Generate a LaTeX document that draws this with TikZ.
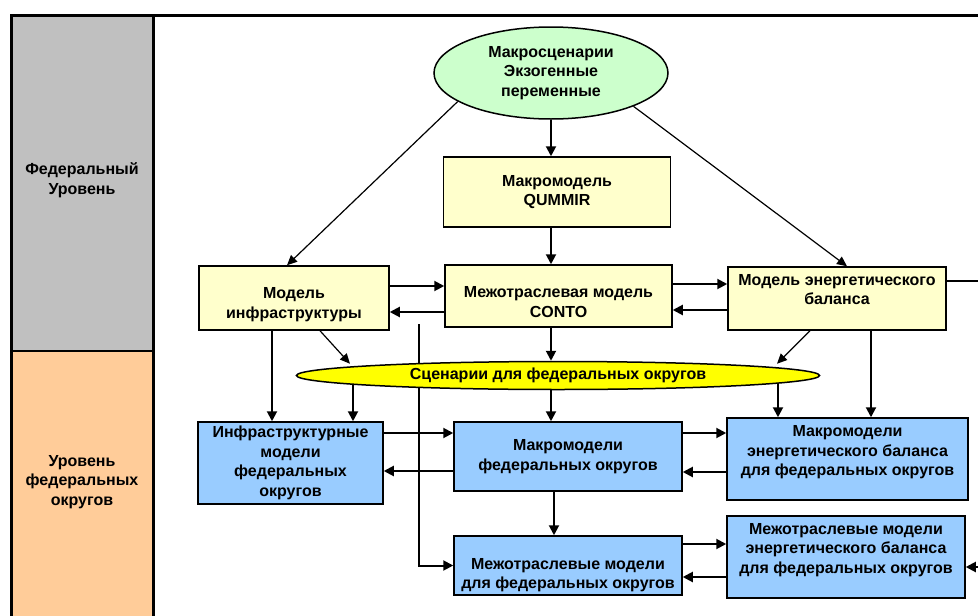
\documentclass[tikz,border=0pt]{standalone}
\usepackage{fontspec}
\setmainfont{Liberation Sans}
\usetikzlibrary{positioning,arrows.meta,shapes.geometric,backgrounds}
\definecolor{levgray}{HTML}{C0C0C0}
\definecolor{levorange}{HTML}{FFCC99}
\definecolor{fedyellow}{HTML}{FFFFCC}
\definecolor{okrblue}{HTML}{99CCFF}
\definecolor{macrogreen}{HTML}{CCFFCC}
\definecolor{scenyellow}{HTML}{FFFF00}
% shift text inside a box: extra depth on last line / extra height on first line
\newcommand{\txtup}[1]{\rule[-#1]{0pt}{#1}}
\newcommand{\txtdown}[1]{\rule{0pt}{#1}}

\begin{document}
\begin{tikzpicture}[x=1pt,y=-1pt,font=\bfseries\fontsize{16}{19.5}\selectfont]
   \tikzstyle{arrow} = [line width=2pt,-{Triangle[length=10pt,width=10pt]}]
   \tikzstyle{thinarrow} = [line width=1.2pt,-{Triangle[length=10pt,width=9pt]}]
   \tikzset{fedbox/.style = {rectangle, draw, line width=1.5pt, fill=fedyellow, align=center, inner sep=2pt}, }
   \tikzset{okrbox/.style = {rectangle, draw, line width=1.5pt, fill=okrblue, align=center, inner sep=2pt}, }
   \tikzset{scenario/.style = {ellipse, draw, line width=1.5pt, align=center, inner sep=0pt}, }

   \useasboundingbox (0,0) rectangle (978,616);

   % levels
   \fill[levgray] (11,15) rectangle (153,351);
   \fill[levorange] (11,351) rectangle (153,616);
   \draw[line width=3pt] (978,15) -- (11,15) -- (11,616);
   \draw[line width=3pt] (153,15) -- (153,616);
   \draw[line width=2pt] (11,351) -- (153,351);
   \node[align=center] (fed) at (82,180) {Федеральный\\Уровень};
   \node[align=center] (okr) at (82,482) {Уровень\\федеральных\\округов};

   % federal level
   \node[scenario, fill=macrogreen, minimum width=234pt, minimum height=92pt] (macro) at (551,73) {Макросценарии\\Экзогенные\\переменные};
   \node[fedbox, minimum width=227pt, minimum height=70pt] (qummir) at (557,192) {Макромодель\\QUMMIR};
   \node[fedbox, minimum width=227pt, minimum height=62pt] (conto) at (558.5,296) {\txtdown{23pt}Межотраслевая модель\\CONTO};
   \node[fedbox, minimum width=190pt, minimum height=64pt] (infra) at (294,298) {\txtdown{24pt}Модель\\инфраструктуры};
   \node[fedbox, minimum width=218pt, minimum height=63pt] (energy) at (837,298.5) {Модель энергетического\\баланса\txtup{18pt}};
   \node[scenario, fill=scenyellow, minimum width=523pt, minimum height=28pt] (scen) at (558,375.5) {Сценарии для федеральных округов};

   % district level
   \node[okrbox, minimum width=185pt, minimum height=82pt] (infraokr) at (290.5,463) {Инфраструктурные\\модели\\федеральных\\округов};
   \node[okrbox, minimum width=228pt, minimum height=69pt] (macrookr) at (568,456.5) {Макромодели\\федеральных округов};
   \node[okrbox, minimum width=241pt, minimum height=82pt] (energyokr) at (847.5,459) {Макромодели\\энергетического баланса\\для федеральных округов\txtup{17pt}};
   \node[okrbox, minimum width=228pt, minimum height=59pt] (mezhokr) at (568,565.5) {\txtdown{30pt}Межотраслевые модели\\для федеральных округов};
   \node[okrbox, minimum width=238pt, minimum height=82pt] (mezhenokr) at (846,557) {Межотраслевые модели\\энергетического баланса\\для федеральных округов\txtup{18pt}};

   \coordinate (rtop) at (978,281);
   \coordinate (rbot) at (978,567);
   \coordinate (cross) at (419,324);

   \begin{scope}[on background layer]
   % from macro scenarios
   \draw[arrow] (macro.south) -- (macro.south |- qummir.north);
   \draw[thinarrow] (macro.197) -- ([xshift=-7pt]infra.north);
   \draw[thinarrow] (macro.338) -- ([xshift=10pt]energy.north);

   % federal links
   \draw[arrow] (qummir.south -| macro.south) -- (conto.north -| macro.south);
   \draw[arrow] ([yshift=12pt]infra.east) -- ([yshift=12pt]infra.east -| conto.west);
   \draw[arrow] ([yshift=-16pt]conto.west) -- ([yshift=-16pt]conto.west -| infra.east);
   \draw[arrow] ([yshift=12pt]conto.east) -- ([yshift=12pt]conto.east -| energy.west);
   \draw[arrow] ([yshift=-11.5pt]energy.west) -- ([yshift=-11.5pt]energy.west -| conto.east);
   \draw[line width=2pt] (energy.east |- rtop) -- (rtop);

   % to scenarios
   \draw[thinarrow] ([xshift=26pt]infra.south) -- ([yshift=-3pt]scen.north -| 350,0);
   \draw[arrow] (conto.south -| macro.south) -- (scen.north -| macro.south);
   \draw[thinarrow] ([xshift=-27pt]energy.south) -- ([yshift=-3pt]scen.north -| 777,0);

   % scenarios to districts
   \draw[arrow] (scen.center -| 353,0) -- (infraokr.north -| 353,0);
   \draw[arrow] (scen.center -| macro.south) -- (macrookr.north -| macro.south);
   \draw[arrow] (scen.center -| 778,0) -- (energyokr.north -| 778,0);

   % long links
   \draw[arrow] ([xshift=-22pt]infra.south) -- ([xshift=-22pt]infra.south |- infraokr.north);
   \draw[arrow] ([xshift=34pt]energy.south) -- ([xshift=34pt]energy.south |- energyokr.north);
   \draw[arrow] (cross) -- (cross |- mezhokr.west) -- (mezhokr.west);

   % district links
   \draw[arrow] ([yshift=30pt]infraokr.east) -- ([yshift=30pt]infraokr.east -| macrookr.west);
   \draw[arrow] ([yshift=-14.5pt]macrookr.west) -- ([yshift=-14.5pt]macrookr.west -| infraokr.east);
   \draw[arrow] ([yshift=23.5pt]macrookr.east) -- ([yshift=23.5pt]macrookr.east -| energyokr.west);
   \draw[arrow] ([yshift=-13pt]energyokr.west) -- ([yshift=-13pt]energyokr.west -| macrookr.east);
   \draw[arrow] ([xshift=-14pt]macrookr.south) -- ([xshift=-14pt]mezhokr.north);
   \draw[arrow] ([yshift=21.5pt]mezhokr.east) -- ([yshift=21.5pt]mezhokr.east -| mezhenokr.west);
   \draw[arrow] ([yshift=-20pt]mezhenokr.west) -- ([yshift=-20pt]mezhenokr.west -| mezhokr.east);
   \draw[arrow] (rbot) -- (rbot -| mezhenokr.east);
   \end{scope}
\end{tikzpicture}
\end{document}
